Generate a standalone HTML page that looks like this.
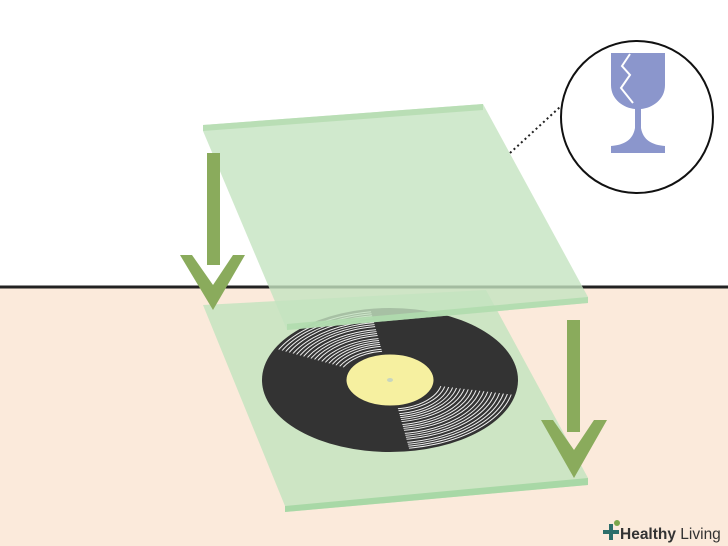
<!DOCTYPE html>
<html><head><style>body{margin:0}svg{display:block}</style></head><body>
<svg width="728" height="546" viewBox="0 0 728 546" xmlns="http://www.w3.org/2000/svg">
<defs>
<clipPath id="s1"><path d="M262,345 A128,72 0 0 1 370,308 L390,380 Z"/></clipPath>
<clipPath id="s2"><path d="M410,452 A128,72 0 0 0 515,395 L390,380 Z"/></clipPath>
</defs>
<rect width="728" height="546" fill="#fff"/>
<rect y="287" width="728" height="259" fill="#fbeadb"/>
<line x1="0" y1="287" x2="728" y2="287" stroke="#222" stroke-width="3"/>
<!-- bottom glass -->
<polygon points="203,305 486,290 588,478 588,485 285,512 285,506" fill="#c4e4c0" opacity="0.85"/>
<polygon points="285,506 588,478 588,485 285,512" fill="#a8d8a6"/>
<!-- record -->
<ellipse cx="390" cy="380" rx="128" ry="72" fill="#333"/>
<g fill="none" stroke="#eee" stroke-width="1" clip-path="url(#s1)">
<ellipse cx="390" cy="380" rx="124" ry="69"/><ellipse cx="390" cy="380" rx="120" ry="67"/><ellipse cx="390" cy="380" rx="116" ry="65"/><ellipse cx="390" cy="380" rx="112" ry="63"/><ellipse cx="390" cy="380" rx="108" ry="60"/><ellipse cx="390" cy="380" rx="104" ry="58"/><ellipse cx="390" cy="380" rx="100" ry="56"/><ellipse cx="390" cy="380" rx="96" ry="54"/><ellipse cx="390" cy="380" rx="92" ry="51"/><ellipse cx="390" cy="380" rx="88" ry="49"/><ellipse cx="390" cy="380" rx="84" ry="47"/><ellipse cx="390" cy="380" rx="80" ry="45"/><ellipse cx="390" cy="380" rx="76" ry="42"/><ellipse cx="390" cy="380" rx="72" ry="40"/><ellipse cx="390" cy="380" rx="68" ry="38"/><ellipse cx="390" cy="380" rx="64" ry="36"/><ellipse cx="390" cy="380" rx="60" ry="34"/><ellipse cx="390" cy="380" rx="56" ry="31"/><ellipse cx="390" cy="380" rx="52" ry="29"/>
</g>
<g fill="none" stroke="#eee" stroke-width="1" clip-path="url(#s2)">
<ellipse cx="390" cy="380" rx="124" ry="69"/><ellipse cx="390" cy="380" rx="120" ry="67"/><ellipse cx="390" cy="380" rx="116" ry="65"/><ellipse cx="390" cy="380" rx="112" ry="63"/><ellipse cx="390" cy="380" rx="108" ry="60"/><ellipse cx="390" cy="380" rx="104" ry="58"/><ellipse cx="390" cy="380" rx="100" ry="56"/><ellipse cx="390" cy="380" rx="96" ry="54"/><ellipse cx="390" cy="380" rx="92" ry="51"/><ellipse cx="390" cy="380" rx="88" ry="49"/><ellipse cx="390" cy="380" rx="84" ry="47"/><ellipse cx="390" cy="380" rx="80" ry="45"/><ellipse cx="390" cy="380" rx="76" ry="42"/><ellipse cx="390" cy="380" rx="72" ry="40"/><ellipse cx="390" cy="380" rx="68" ry="38"/><ellipse cx="390" cy="380" rx="64" ry="36"/><ellipse cx="390" cy="380" rx="60" ry="34"/><ellipse cx="390" cy="380" rx="56" ry="31"/><ellipse cx="390" cy="380" rx="52" ry="29"/>
</g>
<ellipse cx="390" cy="380" rx="44" ry="26" fill="#f6f0a0" stroke="#333" stroke-width="1"/>
<ellipse cx="390" cy="380" rx="3" ry="2" fill="#c8d6c0"/>
<!-- top glass -->
<polygon points="203,125 483,104 588,297 588,303 287,330 203,131" fill="#c4e4c0" opacity="0.8"/>
<polygon points="203,125 483,104 483,110 203,131" fill="#b6ddb2" opacity="0.9"/>
<polygon points="287,324 588,297 588,303 287,330" fill="#b0dbae" opacity="0.9"/>
<!-- arrows -->
<g fill="#8aab5c">
<rect x="207" y="153" width="13" height="112"/>
<polygon points="180,255 192,255 213,285 233,255 245,255 213,310"/>
<rect x="567" y="320" width="13" height="112"/>
<polygon points="541,420 553,420 574,450 594,420 607,420 574,478"/>
</g>
<!-- dotted -->
<line x1="510" y1="153" x2="560" y2="107" stroke="#222" stroke-width="2" stroke-dasharray="2,3"/>
<!-- circle -->
<circle cx="637" cy="117" r="76" fill="#fff" stroke="#111" stroke-width="2"/>
<path d="M611,53 L665,53 L665,85 C665,100 652,108 641,109 L641,128 C643,140 652,145 665,146 L665,153 L611,153 L611,146 C624,145 633,140 635,128 L635,109 C624,108 611,100 611,85 Z" fill="#8b96cc"/>
<polyline points="630,54 622,66 630,75 621,88 633,103" fill="none" stroke="#fff" stroke-width="2"/>
<!-- logo -->
<rect x="603" y="530" width="16" height="4" fill="#2c6e6a"/>
<rect x="609" y="524" width="4" height="16" fill="#2c6e6a"/>
<circle cx="617" cy="523" r="3" fill="#7aa64a"/>
<text x="620" y="539" font-family="Liberation Sans, sans-serif" font-size="15.5" fill="#333"><tspan font-weight="bold">Healthy</tspan> Living</text>
</svg>
</body></html>
